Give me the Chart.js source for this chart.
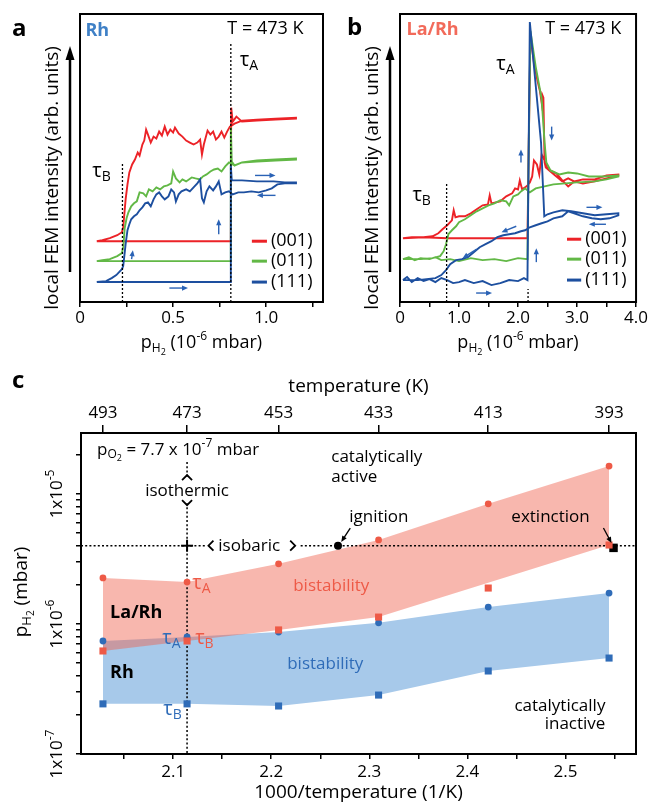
<!DOCTYPE html>
<html>
<head>
<meta charset="utf-8">
<title>FEM bistability Rh vs La/Rh</title>
<script src="https://cdn.jsdelivr.net/npm/chart.js@4.4.1/dist/chart.umd.min.js"></script>
<style>
  body { margin: 0; background: #fff; }
  #wrap { position: relative; width: 649px; height: 804px; }
  canvas { position: absolute; }
</style>
</head>
<body>
<div id="wrap">
  <canvas id="chartA" width="325" height="360" style="left:0;top:0"></canvas>
  <canvas id="chartB" width="324" height="360" style="left:325px;top:0"></canvas>
  <canvas id="chartC" width="649" height="434" style="left:0;top:370px"></canvas>
</div>
<script>
const FONT = "'Open Sans', sans-serif";
Chart.defaults.font.family = FONT;
Chart.defaults.font.size = 17;
Chart.defaults.color = "#000";

const RED = "#ec2227", GREEN = "#62b846", BLUE = "#1d4f9f";
const ARROW_BLUE = "#2a62b5";
const RED_C = "#ee5a47", BLUE_C = "#2f6cb8";

// ---- panel a: Rh tip, T = 473 K ----
// [p_H2 (1e-6 mbar), local FEM intensity (arb. units)]
const rh001 = [[0.09,61],[0.81,61],[0.812,195],[0.82,181],[0.84,186],[0.87,181],[0.95,182],[1.05,183],[1.16,184],
  [1.16,185],[1.05,184],[0.95,183],[0.87,182],[0.83,179],[0.805,176],[0.79,171],[0.775,165],[0.76,171],[0.745,166],
  [0.73,163],[0.715,171],[0.70,168],[0.685,172],[0.665,158],[0.655,148],[0.645,163],[0.63,160],[0.61,158],[0.59,160],
  [0.57,162],[0.55,166],[0.53,169],[0.51,175],[0.50,170],[0.485,173],[0.47,168],[0.455,176],[0.44,167],[0.425,171],
  [0.41,164],[0.395,166],[0.38,160],[0.365,168],[0.355,173],[0.345,162],[0.335,158],[0.32,147],[0.31,150],[0.295,143],
  [0.28,138],[0.265,130],[0.255,118],[0.245,103],[0.238,88],[0.232,75],[0.225,70],[0.2,67],[0.16,64],[0.12,62],[0.09,61]];
const rh011 = [[0.09,41],[0.81,41],[0.81,175],[0.815,141],[0.83,137],[0.87,140],[0.95,141],[1.05,142],[1.16,143],
  [1.16,144],[1.05,143],[0.95,142],[0.87,140],[0.83,137],[0.80,140],[0.78,136],[0.76,131],[0.74,134],[0.72,133],
  [0.70,131],[0.68,128],[0.66,126],[0.645,123],[0.62,124],[0.60,125],[0.57,121],[0.55,123],[0.535,120],[0.515,124],
  [0.50,131],[0.49,119],[0.47,117],[0.45,116],[0.43,113],[0.41,115],[0.39,111],[0.37,113],[0.355,106],[0.34,109],
  [0.32,110],[0.305,101],[0.29,99],[0.275,96],[0.26,90],[0.25,84],[0.24,74],[0.233,56],[0.225,49],[0.2,46],[0.16,43],
  [0.12,42],[0.09,41]];
const rh111 = [[0.09,20],[0.81,20],[0.81,137],[0.815,122],[0.87,122],[0.95,121],[1.04,121],[1.1,120],[1.16,120],
  [1.16,119],[1.1,119],[1.06,118],[1.03,114],[1.0,112],[0.96,110],[0.92,111],[0.88,110],[0.85,110],[0.82,108],
  [0.80,111],[0.78,110],[0.76,108],[0.745,121],[0.73,116],[0.715,112],[0.695,116],[0.68,111],[0.665,100],[0.655,104],
  [0.645,123],[0.63,119],[0.61,115],[0.59,111],[0.57,113],[0.545,111],[0.53,108],[0.515,101],[0.505,110],[0.49,113],
  [0.475,106],[0.455,103],[0.44,106],[0.425,110],[0.41,108],[0.395,103],[0.38,96],[0.365,100],[0.35,99],[0.335,95],
  [0.32,92],[0.305,88],[0.29,86],[0.275,83],[0.265,78],[0.255,72],[0.245,58],[0.238,46],[0.232,36],[0.225,33],
  [0.21,30],[0.195,27],[0.17,24],[0.14,21],[0.09,20]];
const rhTransB = 0.228, rhTransA = 0.81;

// ---- panel b: La/Rh tip, T = 473 K ----
const la001 = [[0.05,64],[0.4,65],[0.8,64],[1.2,64],[1.6,64],[2.0,64],[2.16,64],[2.18,150],[2.21,268],[2.27,240],
  [2.33,222],[2.37,212],[2.40,200],[2.41,208],[2.43,205],[2.45,140],[2.47,135],[2.55,131],[2.65,126],[2.75,121],
  [2.85,124],[2.95,121],[3.1,123],[3.3,123],[3.5,127],[3.7,128],
  [3.7,127],[3.5,124],[3.3,121],[3.1,119],[2.95,121],[2.85,116],[2.75,122],[2.65,129],[2.58,131],[2.5,134],[2.45,142],
  [2.4,148],[2.36,128],[2.32,138],[2.27,142],[2.24,126],[2.2,120],[2.16,117],[2.12,115],[2.07,113],[2.03,122],[2.0,113],
  [1.95,114],[1.9,109],[1.8,106],[1.7,101],[1.62,100],[1.55,99],[1.52,107],[1.49,98],[1.4,97],[1.3,93],[1.2,89],
  [1.1,86],[1.0,86],[0.94,85],[0.91,92],[0.88,82],[0.8,77],[0.72,73],[0.65,69],[0.55,66],[0.4,65],[0.2,65],[0.05,64]];
const la011 = [[0.05,43],[0.15,45],[0.25,42],[0.35,44],[0.5,43],[0.6,45],[0.7,42],[0.85,43],[1.0,41],[1.2,44],[1.4,42],
  [1.6,43],[1.8,41],[2.0,44],[2.16,43],[2.18,150],[2.21,272],[2.3,236],[2.4,204],[2.45,160],[2.48,140],[2.55,132],
  [2.7,128],[2.85,130],[3.0,129],[3.2,126],[3.45,126],[3.7,127],
  [3.7,126],[3.5,123],[3.3,121],[3.0,120],[2.8,119],[2.6,118],[2.45,116],[2.3,114],[2.2,110],[2.12,114],[2.05,111],
  [2.0,108],[1.92,106],[1.85,97],[1.8,101],[1.7,102],[1.6,99],[1.5,97],[1.4,94],[1.3,91],[1.2,87],[1.1,83],[1.0,80],
  [0.95,76],[0.88,72],[0.82,68],[0.78,58],[0.74,51],[0.68,46],[0.55,44],[0.35,43],[0.05,43]];
const la111 = [[0.05,22],[0.12,25],[0.2,20],[0.3,24],[0.4,21],[0.5,23],[0.6,20],[0.7,24],[0.8,22],[0.9,19],[1.0,20],
  [1.1,22],[1.25,19],[1.4,21],[1.55,17],[1.7,19],[1.85,22],[2.0,21],[2.1,24],[2.16,22],[2.2,281],[2.39,160],[2.445,86],
  [2.5,88],[2.6,90],[2.75,92],[2.9,91],[3.1,89],[3.3,87],[3.5,88],[3.7,89],
  [3.7,87],[3.55,84],[3.4,83],[3.25,84],[3.1,86],[2.95,89],[2.85,91],[2.75,86],[2.6,84],[2.5,81],[2.4,79],[2.3,77],
  [2.2,75],[2.12,72],[2.05,71],[1.95,69],[1.85,68],[1.75,67],[1.65,65],[1.55,61],[1.45,58],[1.35,55],[1.25,50],
  [1.15,45],[1.05,43],[0.95,42],[0.85,38],[0.78,32],[0.7,27],[0.6,24],[0.45,23],[0.3,22],[0.05,22]];
const laTransB = 0.79, laTransA = 2.17;

// ---- panel c: kinetic phase diagram, p_O2 = 7.7e-7 mbar ----
const tempK = [493, 473, 453, 433, 413, 393];
const laRhTauA = [2.26e-6, 2.1e-6, 2.9e-6, 4.43e-6, 8.4e-6, 1.64e-5];
const laRhTauB = [6.2e-7, 7.4e-7, 9.0e-7, 1.13e-6, 1.89e-6, 4.05e-6];
const rhTauA = [7.4e-7, 7.94e-7, 8.67e-7, 1.02e-6, 1.35e-6, 1.73e-6];
const rhTauB = [2.43e-7, 2.43e-7, 2.34e-7, 2.84e-7, 4.35e-7, 5.47e-7];
const laRhEdgeSkipK = 413; // this square sits outside the shaded La/Rh band
const isobarPH2 = 4.0e-6, isothermK = 473;
const ignitionPt = [440.9, 4.0e-6];
const extinctionPt = [392.3, 3.85e-6];

const inv = T => 1000 / T;
const xy = arr => arr.map(([x, y]) => ({ x, y }));
const tempSeries = vals => vals.map((v, i) => ({ x: inv(tempK[i]), y: v }));

// ---- drawing helpers ----
function rich(ctx, parts, x, y, o = {}) {
  const size = o.size || 17, wt = o.bold ? "bold " : "";
  const fs = k => (k === 0 ? size : k === 3 ? Math.round(size * 0.5) : Math.round(size * 0.68));
  let total = 0;
  for (const [t, k] of parts) { ctx.font = wt + fs(k) + "px " + FONT; total += ctx.measureText(t).width; }
  let cx = o.align === "center" ? x - total / 2 : o.align === "right" ? x - total : x;
  ctx.fillStyle = o.color || "#000";
  ctx.textAlign = "left";
  ctx.textBaseline = "middle";
  for (const [t, k] of parts) {
    ctx.font = wt + fs(k) + "px " + FONT;
    const dy = k === 1 ? size * 0.3 : k === 2 ? -size * 0.38 : k === 3 ? size * 0.5 : 0;
    ctx.fillText(t, cx, y + dy);
    cx += ctx.measureText(t).width;
  }
}

function arrow(ctx, x1, y1, x2, y2, color, lw = 1.4, hl = 6, hw = 2.6) {
  const ang = Math.atan2(y2 - y1, x2 - x1), c = Math.cos(ang), s = Math.sin(ang);
  ctx.save();
  ctx.strokeStyle = color; ctx.fillStyle = color; ctx.lineWidth = lw;
  ctx.beginPath(); ctx.moveTo(x1, y1); ctx.lineTo(x2 - hl * 0.7 * c, y2 - hl * 0.7 * s); ctx.stroke();
  ctx.beginPath();
  ctx.moveTo(x2, y2);
  ctx.lineTo(x2 - hl * c - hw * s, y2 - hl * s + hw * c);
  ctx.lineTo(x2 - hl * c + hw * s, y2 - hl * s - hw * c);
  ctx.closePath(); ctx.fill();
  ctx.restore();
}

const frame = {
  id: "frame",
  afterDatasetsDraw(chart) {
    const { ctx, chartArea: a } = chart;
    ctx.save();
    ctx.lineWidth = 2; ctx.strokeStyle = "#000";
    ctx.strokeRect(a.left, a.top, a.right - a.left, a.bottom - a.top);
    ctx.restore();
  }
};

const pH2Title = [["p", 0], ["H", 1], ["2", 3], [" (10", 0], ["-6", 2], [" mbar)", 0]];

function femDecor(cfg) {
  return {
    id: "decor",
    afterDraw(chart) {
      const { ctx, chartArea: a, scales: { x, y } } = chart;
      const X = v => x.getPixelForValue(v), Y = v => y.getPixelForValue(v);
      ctx.save();
      ctx.font = "bold 24px " + FONT; ctx.fillStyle = "#000";
      ctx.textAlign = "left"; ctx.textBaseline = "alphabetic";
      ctx.fillText(cfg.letter, cfg.letterAt[0], cfg.letterAt[1]);
      rich(ctx, [[cfg.name, 0]], X(cfg.nameAt[0]), Y(cfg.nameAt[1]), { size: 18, bold: true, color: cfg.nameColor });
      rich(ctx, [["T = 473 K", 0]], X(cfg.tempAt[0]), Y(cfg.tempAt[1]), { size: 18, align: "right" });
      rich(ctx, [["\u03c4", 0], ["A", 1]], X(cfg.tauAAt[0]), Y(cfg.tauAAt[1]), { size: 20 });
      rich(ctx, [["\u03c4", 0], ["B", 1]], X(cfg.tauBAt[0]), Y(cfg.tauBAt[1]), { size: 20 });
      // y title with arrow
      ctx.save();
      ctx.translate(a.left - 27, 178); ctx.rotate(-Math.PI / 2);
      rich(ctx, [[cfg.yTitle, 0]], 0, 0, { size: 19, align: "center" });
      ctx.restore();
      arrow(ctx, a.left - 10, 272, a.left - 10, 46, "#000", 2.5, 14, 4.5);
      rich(ctx, pH2Title, (a.left + a.right) / 2, 343, { size: 18, align: "center" });
      // legend
      const cols = [RED, GREEN, BLUE], labs = ["(001)", "(011)", "(111)"];
      cfg.legendY.forEach((h, i) => {
        ctx.strokeStyle = cols[i]; ctx.lineWidth = 3;
        ctx.beginPath(); ctx.moveTo(X(cfg.legendX[0]), Y(h)); ctx.lineTo(X(cfg.legendX[1]), Y(h)); ctx.stroke();
        rich(ctx, [[labs[i], 0]], X(cfg.legendX[1]) + 4, Y(h), { size: 18 });
      });
      cfg.arrows.forEach(([x1, y1, x2, y2]) => arrow(ctx, X(x1), Y(y1), X(x2), Y(y2), ARROW_BLUE));
      ctx.restore();
    }
  };
}

function femPanel(id, cfg) {
  const trace = (arr, color, order) => ({
    data: xy(arr), showLine: true, borderColor: color, borderWidth: 1.9, pointRadius: 0, order
  });
  const dotted = (xv, top) => ({
    data: [{ x: xv, y: 0 }, { x: xv, y: top }], showLine: true, borderColor: "#000",
    borderWidth: 1.3, borderDash: [2, 2], pointRadius: 0, order: 0
  });
  return new Chart(document.getElementById(id), {
    type: "scatter",
    data: {
      datasets: [
        trace(cfg.series[0], RED, 3), trace(cfg.series[1], GREEN, 2), trace(cfg.series[2], BLUE, 1),
        dotted(cfg.tauB, cfg.tauBTop), dotted(cfg.tauA, cfg.tauATop)
      ]
    },
    options: {
      responsive: false, animation: false, events: [],
      layout: { padding: { left: cfg.padL, right: cfg.padR, top: 14, bottom: 0 } },
      plugins: { legend: { display: false }, tooltip: { enabled: false } },
      scales: {
        x: {
          type: "linear", min: 0, max: cfg.xMax,
          afterBuildTicks: s => { s.ticks = cfg.ticks.map(v => ({ value: v })); },
          afterFit: s => { s.height = 58; },
          border: { display: false },
          grid: { drawOnChartArea: false, tickLength: 5, color: "#000", lineWidth: 1.5 },
          ticks: { padding: 1, maxRotation: 0, autoSkip: false, font: { size: 17 }, callback: v => cfg.label(v) }
        },
        y: { display: false, min: 0, max: 289 }
      }
    },
    plugins: [frame, femDecor(cfg)]
  });
}

femPanel("chartA", {
  series: [rh001, rh011, rh111], tauB: rhTransB, tauBTop: 140, tauA: rhTransA, tauATop: 261,
  xMax: 1.305, padL: 80, padR: 2,
  ticks: [0, 0.25, 0.5, 0.75, 1.0, 1.25],
  label: v => (v === 0 ? "0" : v === 0.5 ? "0.5" : v === 1 ? "1.0" : ""),
  letter: "a", letterAt: [12, 36], name: "Rh", nameColor: "#3f80c6", nameAt: [0.029, 272],
  tempAt: [1.2, 274], tauAAt: [0.858, 243], tauBAt: [0.066, 131],
  yTitle: "local FEM intensity (arb. units)",
  legendX: [0.923, 1.004], legendY: [61, 41, 20],
  arrows: [[0.48, 14, 0.58, 14], [0.745, 68, 0.745, 83], [0.277, 43, 0.284, 52],
           [0.94, 127, 1.05, 127], [1.05, 107, 0.95, 107]]
});

femPanel("chartB", {
  series: [la001, la011, la111], tauB: laTransB, tauBTop: 120, tauA: laTransA, tauATop: 13,
  xMax: 4.0, padL: 75, padR: 12,
  ticks: [0, 0.5, 1, 1.5, 2, 2.5, 3, 3.5, 4],
  label: v => (v === 0 ? "0" : Number.isInteger(v) ? v.toFixed(1) : ""),
  letter: "b", letterAt: [22, 35], name: "La/Rh", nameColor: "#f26a5a", nameAt: [0.11, 273],
  tempAt: [3.75, 274], tauAAt: [1.63, 239], tauBAt: [0.21, 107],
  yTitle: "local FEM intenstiy (arb. units)",
  legendX: [2.83, 3.07], legendY: [63, 43, 22],
  arrows: [[1.29, 9, 1.56, 9], [2.31, 40, 2.31, 54], [2.05, 140, 2.05, 153], [2.57, 176, 2.57, 162],
           [3.16, 95, 3.43, 95], [3.49, 78, 3.2, 78], [1.97, 76, 1.72, 70], [1.3, 53, 1.06, 44]]
});

// ---- panel c ----
const X_MIN = 2.006, X_MAX = 2.572;
const Y_MIN = 1e-7, Y_MAX = 2.944e-5;
const dot = (a, b) => ({
  data: [a, b], showLine: true, borderColor: "#000", borderWidth: 1.5, borderDash: [2, 2.2],
  pointRadius: 0, order: 8
});
const markers = (vals, color, style, r, order) => ({
  data: tempSeries(vals), showLine: false, pointStyle: style, pointRadius: r,
  backgroundColor: color, borderColor: color, borderWidth: 0, order
});

const notesC = [
  { p: [["p", 0], ["O", 1], ["2", 3], [" = 7.7 x 10", 0], ["-7", 2], [" mbar", 0]], at: [2.0224, 2.18e-5] },
  { p: [["isothermic", 0]], at: [inv(isothermK), 1.05e-5], align: "center" },
  { p: [["isobaric", 0]], at: [2.146, isobarPH2] },
  { p: [["catalytically", 0]], at: [2.2612, 1.93e-5] },
  { p: [["active", 0]], at: [2.2612, 1.35e-5] },
  { p: [["ignition", 0]], at: [2.2796, 6.65e-6] },
  { p: [["extinction", 0]], at: [2.4449, 6.65e-6] },
  { p: [["bistability", 0]], at: [2.2224, 1.96e-6], color: RED_C },
  { p: [["\u03c4", 0], ["A", 1]], at: [2.1194, 2.07e-6], color: RED_C, size: 20 },
  { p: [["La/Rh", 0]], at: [2.0357, 1.22e-6], bold: true, size: 18 },
  { p: [["Rh", 0]], at: [2.0357, 4.2e-7], bold: true, size: 18 },
  { p: [["\u03c4", 0], ["A", 1]], at: [2.0888, 7.8e-7], color: BLUE_C, size: 20 },
  { p: [["\u03c4", 0], ["B", 1]], at: [2.1224, 7.8e-7], color: RED_C, size: 20 },
  { p: [["bistability", 0]], at: [2.2163, 4.92e-7], color: BLUE_C },
  { p: [["\u03c4", 0], ["B", 1]], at: [2.0898, 2.22e-7], color: BLUE_C, size: 20 },
  { p: [["catalytically", 0]], at: [2.5408, 2.34e-7], align: "right" },
  { p: [["inactive", 0]], at: [2.5408, 1.7e-7], align: "right" }
];

const decorC = {
  id: "decorC",
  afterDraw(chart) {
    const { ctx, chartArea: a, scales } = chart;
    const X = v => scales.x.getPixelForValue(v), Y = v => scales.y.getPixelForValue(v);
    ctx.save();
    ctx.font = "bold 24px " + FONT; ctx.fillStyle = "#000";
    ctx.textAlign = "left"; ctx.textBaseline = "alphabetic";
    ctx.fillText("c", 12, 18);
    // y tick labels, rotated
    [[1e-7, "-7"], [1e-6, "-6"], [1e-5, "-5"]].forEach(([v, e]) => {
      ctx.save();
      ctx.translate(a.left - 24, Y(v)); ctx.rotate(-Math.PI / 2);
      rich(ctx, [["1x10", 0], [e, 2]], 0, 0, { size: 17, align: "center" });
      ctx.restore();
    });
    ctx.save();
    ctx.translate(22, 222); ctx.rotate(-Math.PI / 2);
    rich(ctx, [["p", 0], ["H", 1], ["2", 3], [" (mbar)", 0]], 0, 0, { size: 19, align: "center" });
    ctx.restore();
    notesC.forEach(n => rich(ctx, n.p, X(n.at[0]), Y(n.at[1]),
      { size: n.size || 17, bold: n.bold, color: n.color, align: n.align }));
    // chevrons and cross on the guide lines
    const cx = X(inv(isothermK)), cy = Y(isobarPH2);
    ctx.strokeStyle = "#000"; ctx.lineWidth = 1.8;
    const poly = pts => { ctx.beginPath(); pts.forEach(([px, py], i) => (i ? ctx.lineTo(px, py) : ctx.moveTo(px, py))); ctx.stroke(); };
    const yUp = Y(1.35e-5), yDn = Y(8.5e-6);
    poly([[cx - 5, yUp + 3], [cx, yUp - 2], [cx + 5, yUp + 3]]);
    poly([[cx - 5, yDn - 3], [cx, yDn + 2], [cx + 5, yDn - 3]]);
    const xl = X(2.138), xr = X(2.2224);
    poly([[xl + 3, cy - 5], [xl - 2, cy], [xl + 3, cy + 5]]);
    poly([[xr - 3, cy - 5], [xr + 2, cy], [xr - 3, cy + 5]]);
    ctx.lineWidth = 2;
    poly([[cx - 6, cy], [cx + 6, cy]]);
    poly([[cx, cy - 6], [cx, cy + 6]]);
    arrow(ctx, X(2.2806), Y(5.47e-6), X(2.2714), Y(4.28e-6), "#000", 1.3, 6, 2.6);
    arrow(ctx, X(2.5388), Y(5.47e-6), X(2.547), Y(4.2e-6), "#000", 1.3, 6, 2.6);
    ctx.restore();
  }
};

new Chart(document.getElementById("chartC"), {
  type: "scatter",
  data: {
    datasets: [
      // 0-1: La/Rh bistability band
      { data: tempSeries(laRhTauA), showLine: true, borderWidth: 0, pointRadius: 0,
        fill: 1, backgroundColor: "rgba(240,95,75,0.45)", order: 20 },
      { data: tempSeries(laRhTauB).filter((p, i) => tempK[i] !== laRhEdgeSkipK), showLine: true,
        borderWidth: 0, pointRadius: 0, order: 20 },
      // 2-3: Rh bistability band
      { data: tempSeries(rhTauA), showLine: true, borderWidth: 0, pointRadius: 0,
        fill: 3, backgroundColor: "#a7c9ea", order: 21 },
      { data: tempSeries(rhTauB), showLine: true, borderWidth: 0, pointRadius: 0, order: 21 },
      // guide lines
      dot({ x: X_MIN, y: isobarPH2 }, { x: 2.133, y: isobarPH2 }),
      dot({ x: 2.230, y: isobarPH2 }, { x: X_MAX, y: isobarPH2 }),
      dot({ x: inv(isothermK), y: 1.76e-5 }, { x: inv(isothermK), y: 1.35e-5 }),
      dot({ x: inv(isothermK), y: 8.5e-6 }, { x: inv(isothermK), y: Y_MIN }),
      // markers
      markers(rhTauA, BLUE_C, "circle", 3.4, 4),
      markers(rhTauB, BLUE_C, "rect", 5, 4),
      markers(laRhTauA, RED_C, "circle", 3.4, 2),
      markers(laRhTauB, RED_C, "rect", 5, 2),
      { data: [{ x: inv(ignitionPt[0]), y: ignitionPt[1] }], pointStyle: "circle", pointRadius: 4,
        backgroundColor: "#000", borderWidth: 0, order: 1 },
      { data: [{ x: inv(extinctionPt[0]), y: extinctionPt[1] }], pointStyle: "rect", pointRadius: 6,
        backgroundColor: "#000", borderWidth: 0, order: 3 }
    ]
  },
  options: {
    responsive: false, animation: false, events: [],
    layout: { padding: { left: 0, right: 13, top: 0, bottom: 0 } },
    plugins: { legend: { display: false }, tooltip: { enabled: false }, filler: { drawTime: "beforeDatasetsDraw" } },
    scales: {
      x: {
        type: "linear", position: "bottom", min: X_MIN, max: X_MAX,
        afterBuildTicks: s => { s.ticks = [2.05, 2.1, 2.15, 2.2, 2.25, 2.3, 2.35, 2.4, 2.45, 2.5, 2.55].map(v => ({ value: v })); },
        afterFit: s => { s.height = 50; },
        border: { display: false },
        grid: { drawOnChartArea: false, tickLength: 5, color: "#000", lineWidth: 1.5 },
        ticks: { padding: 3, maxRotation: 0, autoSkip: false,
          callback: v => (Math.abs(v * 10 - Math.round(v * 10)) < 1e-6 ? v.toFixed(1) : "") },
        title: { display: true, text: "1000/temperature (1/K)", font: { size: 19 }, padding: { top: 0, bottom: 0 } }
      },
      x2: {
        type: "linear", position: "top", min: X_MIN, max: X_MAX,
        afterBuildTicks: s => { s.ticks = tempK.map(T => ({ value: inv(T) })); },
        afterFit: s => { s.height = 63; },
        border: { display: false },
        grid: { drawOnChartArea: false, tickLength: 8, color: "#000", lineWidth: 1.5 },
        ticks: { padding: 2, maxRotation: 0, autoSkip: false, callback: v => String(Math.round(1000 / v)) },
        title: { display: true, text: "temperature (K)", font: { size: 19 }, padding: { top: 5, bottom: 0 } }
      },
      y: {
        type: "logarithmic", min: Y_MIN, max: Y_MAX,
        afterBuildTicks: s => {
          const t = [];
          [1e-7, 1e-6, 1e-5].forEach(d => [1, 2, 3, 4, 5, 6, 7, 8, 9].forEach(m => { if (m * d <= Y_MAX) t.push({ value: m * d }); }));
          s.ticks = t;
        },
        afterFit: s => { s.width = 81; },
        border: { display: false },
        grid: { drawOnChartArea: false, tickLength: 5, color: "#000", lineWidth: 1.5 },
        ticks: { padding: 0, autoSkip: false, callback: () => "" }
      }
    }
  },
  plugins: [frame, decorC]
});
</script>
</body>
</html>
